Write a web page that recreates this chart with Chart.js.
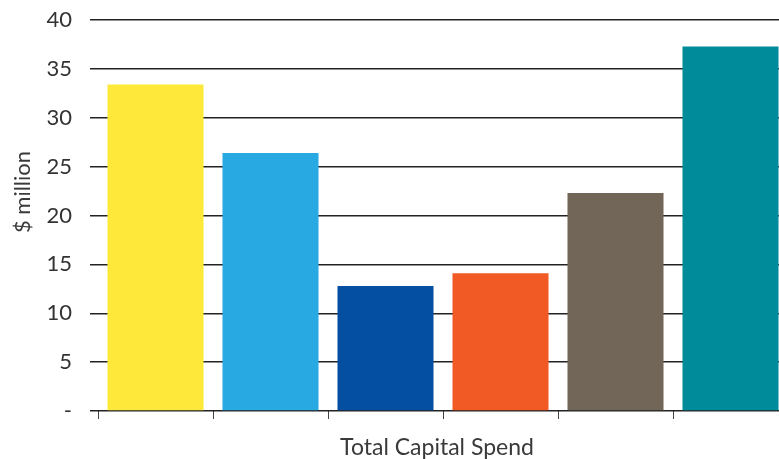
<!DOCTYPE html>
<html>
<head>
<meta charset="utf-8">
<script src="https://cdn.jsdelivr.net/npm/chart.js@4"></script>
<style>
  html, body { margin: 0; padding: 0; background: #fff; overflow: hidden; }
  #wrap { width: 800px; height: 459px; }
</style>
</head>
<body>
<div id="wrap"><canvas id="capital-spend" width="800" height="459"></canvas></div>
<script>
// Chart data
const categories = ['1', '2', '3', '4', '5', '6'];
const spend_values = [33.4, 26.4, 12.8, 14.1, 22.3, 37.3];
const bar_colors = ['#FEE93A', '#28A9E1', '#044FA2', '#F15A24', '#726658', '#008B9B'];
const y_ticks = [0, 5, 10, 15, 20, 25, 30, 35, 40];
const y_title = '$ million';
const x_title = 'Total Capital Spend';

const font_family = 'Lato, "Open Sans", sans-serif';

// axis titles drawn by hand, x title is centred on the visible part of the plot
const axisTitles = {
    id: 'axisTitles',
    afterDraw(chart) {
        const ctx = chart.ctx;
        ctx.save();
        ctx.fillStyle = '#3a3a3a';
        ctx.textAlign = 'center';
        ctx.textBaseline = 'alphabetic';
        ctx.font = '23px ' + font_family;
        ctx.fillText(x_title, 437, 455);
        ctx.font = '22px ' + font_family;
        ctx.translate(30, 192);
        ctx.rotate(-Math.PI / 2);
        ctx.fillText(y_title, 0, 0);
        ctx.restore();
    }
};

const chart_capital = document.getElementById('capital-spend');

new Chart(chart_capital, {
    type: 'bar',
    data: {
        labels: categories,
        datasets: [{
            data: spend_values,
            backgroundColor: bar_colors,
            borderWidth: 0,
            categoryPercentage: 1,
            barPercentage: 0.835
        }]
    },
    options: {
        responsive: false,
        animation: false,
        devicePixelRatio: 1,
        layout: { padding: { top: 20, right: 12, left: 0, bottom: 0 } },
        plugins: {
            legend: { display: false },
            tooltip: { enabled: false }
        },
        scales: {
            x: {
                offset: true,
                grid: {
                    offset: true,
                    drawOnChartArea: false,
                    drawTicks: true,
                    tickLength: 8,
                    color: '#444',
                    lineWidth: 1
                },
                border: { display: false },
                ticks: { display: false },
                afterFit: function(scale) { scale.height = 48; }
            },
            y: {
                min: 0,
                max: 40,
                afterBuildTicks: function(scale) {
                    scale.ticks = y_ticks.map(v => ({ value: v }));
                },
                grid: {
                    color: '#222',
                    lineWidth: 1.5,
                    tickLength: 8,
                    drawTicks: true
                },
                border: { display: false },
                ticks: {
                    padding: 18,
                    color: '#333',
                    font: { family: font_family, size: 22 },
                    callback: function(value) { return value === 0 ? '-' : value; }
                },
                afterFit: function(scale) {
                    scale.width = 98;
                    // labels overhang is small, don't let it push the plot down
                    scale.paddingTop = 10;
                    scale.paddingBottom = 0;
                }
            }
        }
    },
    plugins: [axisTitles]
});
</script>
</body>
</html>
